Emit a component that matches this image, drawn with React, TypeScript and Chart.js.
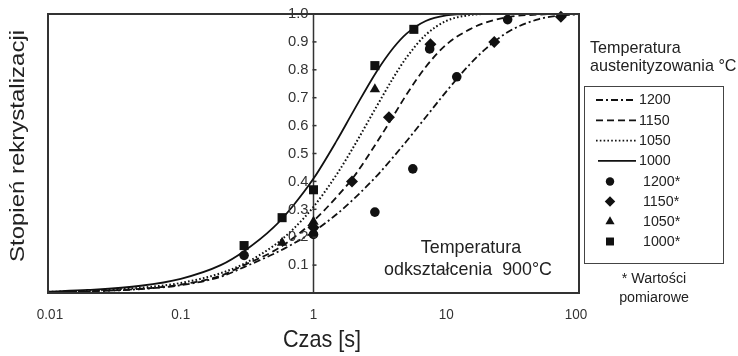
import React, { useEffect, useRef } from "react";
import { Chart, registerables } from "chart.js";

Chart.register(...registerables);

// ---- data ----
const TIMES = [0.01, 0.02, 0.05, 0.1, 0.2, 0.3, 0.5, 0.7, 1, 1.5, 2, 3, 4, 5, 7, 10, 15, 20, 30, 50, 70, 100];
const CURVE_1200 = [0.003, 0.006, 0.014, 0.028, 0.058, 0.093, 0.14, 0.176, 0.22, 0.283, 0.336, 0.42, 0.488, 0.543, 0.63, 0.722, 0.819, 0.877, 0.939, 0.982, 0.994, 0.999];
const CURVE_1150 = [0.003, 0.006, 0.015, 0.03, 0.062, 0.1, 0.15, 0.196, 0.258, 0.345, 0.415, 0.54, 0.635, 0.71, 0.81, 0.89, 0.945, 0.97, 0.99, 0.998, 1, 1];
const CURVE_1050 = [0.004, 0.008, 0.019, 0.036, 0.071, 0.105, 0.169, 0.228, 0.309, 0.426, 0.523, 0.67, 0.772, 0.843, 0.925, 0.975, 0.996, 1, 1, 1, 1, 1];
const CURVE_1000 = [0.005, 0.011, 0.026, 0.051, 0.1, 0.15, 0.235, 0.312, 0.41, 0.547, 0.652, 0.795, 0.879, 0.929, 0.975, 0.995, 1, 1, 1, 1, 1, 1];

const M1200_T = [0.3, 1, 2.9, 5.6, 7.5, 12, 29];
const M1200_V = [0.135, 0.21, 0.29, 0.445, 0.875, 0.775, 0.98];
const M1150_T = [1, 1.95, 3.7, 7.6, 23, 73];
const M1150_V = [0.235, 0.4, 0.63, 0.892, 0.9, 0.99];
const M1050_T = [0.58, 1, 2.9];
const M1050_V = [0.18, 0.255, 0.73];
const M1000_T = [0.3, 0.58, 1, 2.9, 5.7];
const M1000_V = [0.17, 0.27, 0.37, 0.815, 0.945];

const X_TICKS = [0.01, 0.1, 1, 10, 100];
const X_TICK_LABELS = ["0.01", "0.1", "1", "10", "100"];
const Y_TICKS = [0.1, 0.2, 0.3, 0.4, 0.5, 0.6, 0.7, 0.8, 0.9, 1.0];
const Y_TICK_LABELS = ["0.1", "0.2", "0.3", "0.4", "0.5", "0.6", "0.7", "0.8", "0.9", "1.0"];

const X_TITLE = "Czas [s]";
const Y_TITLE = "Stopień rekrystalizacji";
const LEGEND_TITLE = ["Temperatura", "austenityzowania °C"];
const LINE_LABELS = ["1200", "1150", "1050", "1000"];
const MARKER_LABELS = ["1200*", "1150*", "1050*", "1000*"];
const NOTE = ["* Wartości", "pomiarowe"];
const ANNOTATION = ["Temperatura", "odkształcenia  900°C"];

// ---- styles ----
const INK = "#111";
const TEXT = "#222";
const FONT = '"Liberation Sans", Arial, sans-serif';
const DASHES: number[][] = [[7, 3, 2, 3], [7, 4], [1.6, 2.2], []];
const MARKER_STYLES = ["circle", "rectRot", "triangle", "rect"];
const MARKER_RADII = [4.8, 6, 6, 6.4];

function pts(xs: number[], ys: number[]) {
  return xs.map((x, i) => ({ x, y: ys[i] }));
}

function txt(ctx: CanvasRenderingContext2D, s: string, x: number, y: number, size: number, align: CanvasTextAlign, sq = 0.9, color = TEXT) {
  ctx.save();
  ctx.translate(x, y);
  ctx.scale(sq, 1);
  ctx.font = `${size}px ${FONT}`;
  ctx.fillStyle = color;
  ctx.textAlign = align;
  ctx.textBaseline = "middle";
  ctx.fillText(s, 0, 0);
  ctx.restore();
}

function marker(ctx: CanvasRenderingContext2D, style: string, x: number, y: number, r: number) {
  ctx.save();
  ctx.fillStyle = INK;
  ctx.beginPath();
  if (style === "circle") {
    ctx.arc(x, y, r, 0, Math.PI * 2);
  } else if (style === "rect") {
    const s = r * Math.SQRT1_2;
    ctx.rect(x - s, y - s, 2 * s, 2 * s);
  } else if (style === "rectRot") {
    ctx.moveTo(x, y - r);
    ctx.lineTo(x + r, y);
    ctx.lineTo(x, y + r);
    ctx.lineTo(x - r, y);
    ctx.closePath();
  } else if (style === "triangle") {
    const side = (3 * r) / Math.sqrt(3);
    const h = (side * Math.sqrt(3)) / 2;
    ctx.moveTo(x - side / 2, y + h / 3);
    ctx.lineTo(x + side / 2, y + h / 3);
    ctx.lineTo(x, y - (2 * h) / 3);
    ctx.closePath();
  }
  ctx.fill();
  ctx.restore();
}

const framePlugin = {
  id: "frame",
  beforeDatasetsDraw(chart: any) {
    const ctx: CanvasRenderingContext2D = chart.ctx;
    const { top, bottom } = chart.chartArea;
    const xs = chart.scales.x;
    ctx.save();
    const ax = xs.getPixelForValue(1);
    ctx.strokeStyle = "#333";
    ctx.lineWidth = 1.5;
    ctx.beginPath();
    ctx.moveTo(ax, top);
    ctx.lineTo(ax, bottom);
    ctx.stroke();
    ctx.restore();
  },
  afterDatasetsDraw(chart: any) {
    const ctx: CanvasRenderingContext2D = chart.ctx;
    const { left, right, top, bottom } = chart.chartArea;
    const xs = chart.scales.x;
    const ys = chart.scales.y;
    ctx.save();
    // frame
    ctx.strokeStyle = "#333";
    ctx.lineWidth = 2;
    ctx.strokeRect(left, top, right - left, bottom - top);
    // y ticks on the x = 1 axis
    const ax = xs.getPixelForValue(1);
    ctx.lineWidth = 1.5;
    Y_TICKS.forEach((v, i) => {
      const py = ys.getPixelForValue(v);
      ctx.beginPath();
      ctx.moveTo(ax - 1, py);
      ctx.lineTo(ax + 3, py);
      ctx.stroke();
      txt(ctx, Y_TICK_LABELS[i], ax - 5, py, 15.5, "right", 0.95, "#333");
    });
    // x tick labels
    X_TICKS.forEach((v, i) => {
      const px = xs.getPixelForValue(v);
      const off = i === X_TICKS.length - 1 ? -3 : i === 0 ? 2 : 0;
      txt(ctx, X_TICK_LABELS[i], px + off, 315, 15, "center", 0.9, "#333");
    });
    // titles
    txt(ctx, X_TITLE, 322, 340, 24, "center", 0.9);
    ctx.save();
    ctx.translate(18, 146);
    ctx.scale(0.88, 1);
    ctx.rotate(-Math.PI / 2);
    ctx.font = `24px ${FONT}`;
    ctx.fillStyle = TEXT;
    ctx.textAlign = "center";
    ctx.textBaseline = "middle";
    ctx.fillText(Y_TITLE, 0, 0);
    ctx.restore();
    // annotation inside plot
    txt(ctx, ANNOTATION[0], 471, 248, 19, "center", 0.94);
    txt(ctx, ANNOTATION[1], 468, 270, 19, "center", 0.94);
    // legend title
    txt(ctx, LEGEND_TITLE[0], 590, 48, 17, "left", 0.95);
    txt(ctx, LEGEND_TITLE[1], 590, 66, 17, "left", 0.95);
    // legend box
    ctx.strokeStyle = "#444";
    ctx.lineWidth = 1;
    ctx.strokeRect(584.5, 86.5, 139, 177);
    LINE_LABELS.forEach((s, i) => {
      const y = 100 + i * 20.3;
      ctx.save();
      ctx.strokeStyle = INK;
      ctx.lineWidth = 1.8;
      ctx.setLineDash(DASHES[i]);
      ctx.beginPath();
      ctx.moveTo(i === 3 ? 598 : 596, y);
      ctx.lineTo(636, y);
      ctx.stroke();
      ctx.restore();
      txt(ctx, s, 639, y, 15.5, "left", 0.92);
    });
    MARKER_LABELS.forEach((s, i) => {
      const y = 181.5 + i * 20;
      marker(ctx, MARKER_STYLES[i], 610, y, MARKER_RADII[i] * 0.88);
      txt(ctx, s, 643, y, 15.5, "left", 0.92);
    });
    txt(ctx, NOTE[0], 654, 279, 15.5, "center", 0.92);
    txt(ctx, NOTE[1], 654, 298, 15.5, "center", 0.92);
    ctx.restore();
  },
};

export default function App() {
  const ref = useRef<HTMLCanvasElement | null>(null);
  useEffect(() => {
    if (!ref.current) return;
    const curves = [CURVE_1200, CURVE_1150, CURVE_1050, CURVE_1000];
    const markerSets = [
      [M1200_T, M1200_V],
      [M1150_T, M1150_V],
      [M1050_T, M1050_V],
      [M1000_T, M1000_V],
    ];
    const datasets: any[] = [];
    curves.forEach((c, i) => {
      datasets.push({
        type: "line",
        label: LINE_LABELS[i],
        data: pts(TIMES, c),
        borderColor: INK,
        borderWidth: i === 2 ? 2 : 1.8,
        borderDash: DASHES[i],
        pointRadius: 0,
        fill: false,
        cubicInterpolationMode: "monotone",
        clip: false,
      });
    });
    markerSets.forEach(([t, v], i) => {
      datasets.push({
        type: "scatter",
        label: MARKER_LABELS[i],
        data: pts(t, v),
        showLine: false,
        pointStyle: MARKER_STYLES[i],
        pointRadius: MARKER_RADII[i],
        backgroundColor: INK,
        borderColor: INK,
        borderWidth: 0,
        clip: false,
      });
    });
    const chart = new Chart(ref.current, {
      type: "scatter",
      data: { datasets },
      options: {
        responsive: false,
        maintainAspectRatio: false,
        devicePixelRatio: 1,
        animation: false,
        layout: { padding: { left: 48, top: 14, right: 159, bottom: 63 } },
        plugins: { legend: { display: false }, tooltip: { enabled: false } },
        scales: {
          x: { type: "logarithmic", min: 0.01, max: 100, display: false },
          y: { type: "linear", min: 0, max: 1, display: false },
        },
      },
      plugins: [framePlugin],
    } as any);
    return () => chart.destroy();
  }, []);
  return (
    <div style={{ position: "absolute", left: 0, top: 0, width: 738, height: 356, background: "#fff" }}>
      <canvas ref={ref} width={738} height={356} style={{ display: "block" }} />
    </div>
  );
}
